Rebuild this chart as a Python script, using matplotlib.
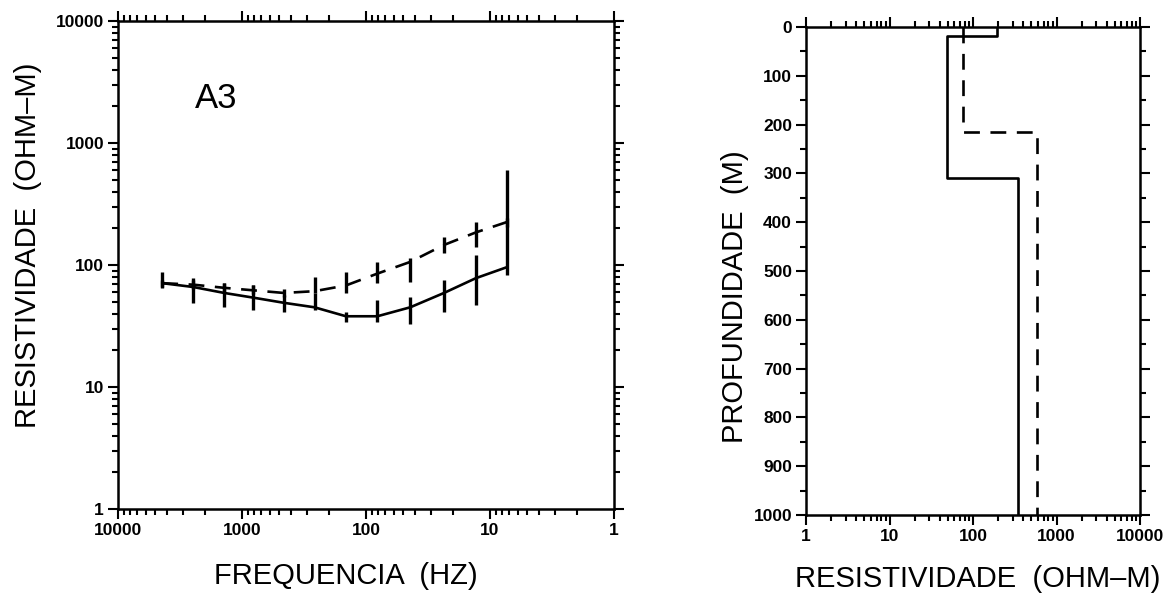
import numpy as np
import matplotlib
matplotlib.use("Agg")
import matplotlib.pyplot as plt
from matplotlib.ticker import LogLocator, FixedLocator, NullFormatter

plt.rcParams['font.family'] = ['Liberation Sans', 'DejaVu Sans']

# ---- Left panel: apparent resistivity sounding curve (station A3) ----
freq = [4400, 2470, 1390, 810, 460, 260, 145, 81, 44, 23.5, 13, 7.3]
rho_solid = [71, 66, 59, 54, 49, 45, 38, 38, 45, 59, 78, 96]
solid_lo = [65, 49, 45, 43, 41, 43, 34, 34, 33, 41, 47, 83]
solid_hi = [88, 78, 71, 69, 57, 59, 41, 52, 55, 75, 121, 601]
rho_dashed = [71, 69, 65, 62, 59, 61, 68, 85, 106, 146, 185, 225]
dashed_lo = [66, 63, 60, 58, 55, 59, 59, 71, 73, 125, 140, 205]
dashed_hi = [76, 75, 71, 68, 64, 80, 88, 106, 114, 170, 225, 245]

left_ticks = [10000, 1000, 100, 10, 1]
left_ticklabels = ['10000', '1000', '100', '10', '1']

# ---- Right panel: layered resistivity model ----
solid_layer_rho = [195, 49, 347]
solid_layer_top = [0, 18, 309]
dashed_layer_rho = [76, 590]
dashed_layer_top = [0, 215]
max_depth = 1000

depth_ticks = [0, 100, 200, 300, 400, 500, 600, 700, 800, 900, 1000]
res_ticks = [1, 10, 100, 1000, 10000]
res_ticklabels = ['1', '10', '100', '1000', '10000']

W, H = 1176, 600
fig = plt.figure(figsize=(W / 100, H / 100), dpi=100)

lw_frame = 1.8
tickfont = dict(fontsize=12.5, fontweight='bold')
labelfont = dict(fontsize=21)


def style_axes(ax):
    for s in ax.spines.values():
        s.set_linewidth(lw_frame)
    ax.tick_params(which='both', direction='out', top=True, right=True,
                   width=1.5, labeltop=False, labelright=False, pad=3)
    ax.tick_params(which='major', length=7)
    ax.tick_params(which='minor', length=4)


# Left axes
axL = fig.add_axes([118 / W, 1 - 509 / H, 496 / W, 488 / H])
axL.set_xscale('log')
axL.set_yscale('log')
axL.set_xlim(10000, 1)
axL.set_ylim(1, 10000)

axL.plot(freq, rho_solid, color='black', lw=1.9, solid_capstyle='round')
axL.plot(freq, rho_dashed, color='black', lw=1.9, dashes=(6, 4))
f_arr = np.array(freq)
axL.vlines(f_arr, solid_lo, solid_hi, color='black', lw=2.4)
axL.vlines(f_arr, dashed_lo, dashed_hi, color='black', lw=2.4)

axL.xaxis.set_major_locator(FixedLocator(left_ticks))
axL.yaxis.set_major_locator(FixedLocator(left_ticks))
axL.xaxis.set_minor_locator(LogLocator(base=10, subs=np.arange(2, 10)))
axL.yaxis.set_minor_locator(LogLocator(base=10, subs=np.arange(2, 10)))
axL.xaxis.set_minor_formatter(NullFormatter())
axL.yaxis.set_minor_formatter(NullFormatter())
axL.set_xticklabels(left_ticklabels, **tickfont)
axL.set_yticklabels(left_ticklabels, **tickfont)
style_axes(axL)

axL.text(0.198, 0.842, 'A3', transform=axL.transAxes, fontsize=25,
         ha='center', va='center')
axL.set_xlabel('FREQUENCIA  (HZ)', **labelfont)
axL.set_ylabel('RESISTIVIDADE  (OHM\u2013M)', **labelfont)
axL.xaxis.set_label_coords(0.46, -0.108)
axL.yaxis.set_label_coords(-0.153, 0.54)

# Right axes
axR = fig.add_axes([806 / W, 1 - 515 / H, 334 / W, 488 / H])
axR.set_xscale('log')
axR.set_xlim(1, 10000)
axR.set_ylim(max_depth, 0)


def profile(rhos, tops, bottom):
    xs, ys = [], []
    bots = list(tops[1:]) + [bottom]
    for r, t, b in zip(rhos, tops, bots):
        xs += [r, r]
        ys += [t, b]
    return xs, ys


xs, ys = profile(solid_layer_rho, solid_layer_top, max_depth)
axR.plot(xs, ys, color='black', lw=1.9)
xs, ys = profile(dashed_layer_rho, dashed_layer_top, max_depth)
axR.plot(xs, ys, color='black', lw=1.9, dashes=(6, 4))

axR.xaxis.set_major_locator(FixedLocator(res_ticks))
axR.xaxis.set_minor_locator(LogLocator(base=10, subs=np.arange(2, 10)))
axR.xaxis.set_minor_formatter(NullFormatter())
axR.set_xticklabels(res_ticklabels, **tickfont)
axR.yaxis.set_major_locator(FixedLocator(depth_ticks))
axR.yaxis.set_minor_locator(FixedLocator([50 + 100 * i for i in range(10)]))
axR.set_yticklabels([str(d) for d in depth_ticks], **tickfont)
style_axes(axR)

axR.set_xlabel('RESISTIVIDADE  (OHM\u2013M)', **labelfont)
axR.set_ylabel('PROFUNDIDADE  (M)', **labelfont)
axR.xaxis.set_label_coords(0.515, -0.102)
axR.yaxis.set_label_coords(-0.172, 0.447)

fig.savefig('out.png', dpi=100, facecolor='white')
